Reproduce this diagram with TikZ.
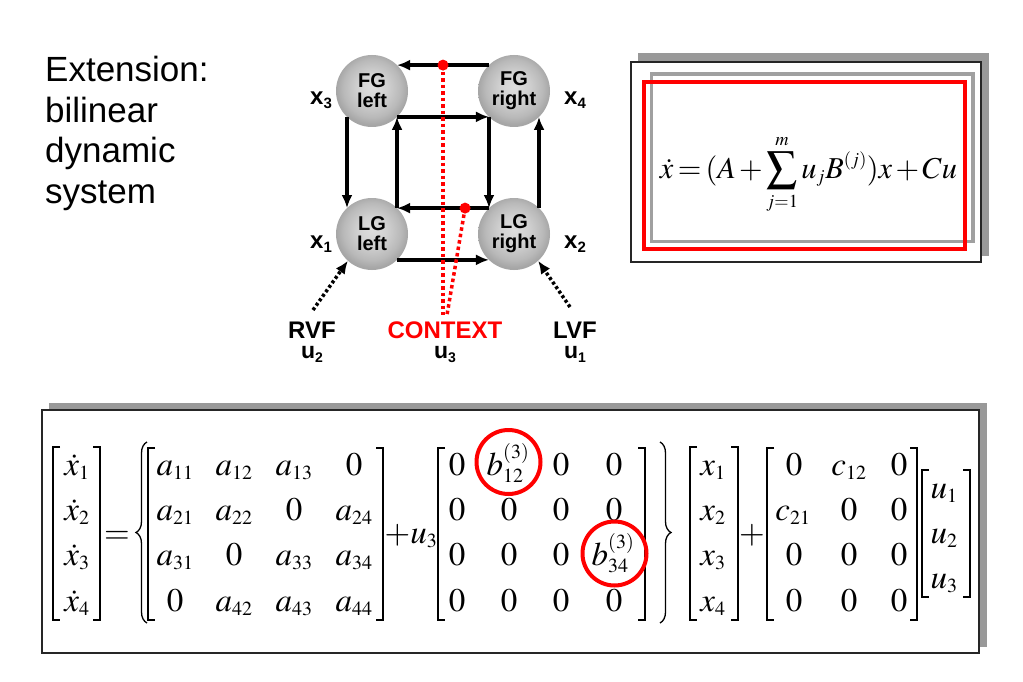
\documentclass[tikz,border=0pt]{standalone}
\usepackage{mathptmx}
\usepackage[no-math]{fontspec}
\setmainfont{Liberation Sans}
\DeclareMathSizes{33}{33}{20}{15}
\usetikzlibrary{arrows.meta,decorations.pathreplacing,calc}
\definecolor{shadowgray}{RGB}{153,153,153}
\definecolor{framegray}{RGB}{160,160,160}
\pgfdeclareradialshading{sphere}{\pgfpoint{0bp}{3bp}}{color(0bp)=(gray!26); color(10bp)=(gray!36); color(20bp)=(gray!55); color(25bp)=(gray!70); color(50bp)=(gray!70)}
\newcommand\lbl[2]{#1\raisebox{-4pt}{\fontsize{15}{15}\selectfont #2}}
\newcommand\ulbl[2]{#1\raisebox{-4pt}{\fontsize{14}{14}\selectfont #2}}
\newcommand\lbrk[3]{\draw[brk] (#1+7,#2) -- (#1,#2) -- (#1,#3) -- (#1+7,#3);}
\newcommand\rbrk[3]{\draw[brk] (#1-7,#2) -- (#1,#2) -- (#1,#3) -- (#1-7,#3);}
\tikzset{
  area/.style={circle, minimum size=72pt, inner sep=0pt, outer sep=0pt, shading=sphere,
    font=\bfseries\fontsize{20}{20}\selectfont, align=center},
  conn/.style={line width=3.5pt, -{Latex[length=13pt,width=11pt]}},
  inp/.style={line width=3.5pt, dash pattern=on 3pt off 2.5pt, -{Latex[length=13pt,width=11pt]}},
  ctx/.style={red, line width=3.5pt, dash pattern=on 3.5pt off 3pt},
  rdot/.style={circle, fill=red, minimum size=11pt, inner sep=0pt},
  xlab/.style={font=\bfseries\fontsize{24}{24}\selectfont, anchor=base, inner sep=0pt},
  inlab/.style={font=\bfseries\fontsize{24}{24}\selectfont, anchor=base, inner sep=0pt},
  ulab/.style={font=\bfseries\fontsize{23}{23}\selectfont, anchor=base, inner sep=0pt},
  ttl/.style={font=\fontsize{35}{40}\selectfont, anchor=base west, inner sep=0pt},
  ent/.style={anchor=base, inner sep=0pt, font=\fontsize{33}{40}\selectfont},
  brk/.style={line width=1.3pt, line cap=butt},
  brc/.style={line width=1.3pt, decorate, decoration={brace, amplitude=11pt}},
  hl/.style={circle, draw=red, line width=4pt, minimum size=64pt, inner sep=0pt},
}
\begin{document}
\begin{tikzpicture}[x=1pt,y=-1pt]
\useasboundingbox (0,0) rectangle (1023,682);
\fill[white] (0,0) rectangle (1023,682);

% title
\node[ttl] (t1) at (45,82) {Extension:};
\node[ttl] (t2) at (45,122.5) {bilinear};
\node[ttl] (t3) at (45,163) {dynamic};
\node[ttl] (t4) at (45,203.5) {system};

% network
\node[area] (fgl) at (372,91) {FG\\left};
\node[area] (fgr) at (514,91) {FG\\right};
\node[area] (lgl) at (372,234) {LG\\left};
\node[area] (lgr) at (514,234) {LG\\right};

\node[xlab] (x3) at (321,105) {\lbl{x}{3}};
\node[xlab] (x4) at (575,105) {\lbl{x}{4}};
\node[xlab] (x1) at (321,248) {\lbl{x}{1}};
\node[xlab] (x2) at (575,248) {\lbl{x}{2}};

\draw[conn] (fgr.134) -- (fgl.46);
\draw[conn] (fgl.-46) -- (fgr.-134);
\draw[conn] (fgl.-134) -- (lgl.134);
\draw[conn] (lgl.46) -- (fgl.-46);
\draw[conn] (fgr.-134) -- (lgr.134);
\draw[conn] (lgr.46) -- (fgr.-46);
\draw[conn] (lgr.134) -- (lgl.46);
\draw[conn] (lgl.-46) -- (lgr.-134);

% inputs
\node[inlab] (rvf) at (312,338) {RVF};
\node[ulab] (u2l) at (312,358) {\ulbl{u}{2}};
\node[inlab, text=red] (ctxl) at (445,338) {CONTEXT};
\node[ulab] (u3l) at (445,358) {\ulbl{u}{3}};
\node[inlab] (lvf) at (575,338) {LVF};
\node[ulab] (u1l) at (575,358) {\ulbl{u}{1}};

\coordinate (rvfs) at (313,310);
\coordinate (lvfs) at (570,307);
\coordinate (ctx1) at (443,315);
\coordinate (ctx2) at (447,315);
\draw[inp] (rvfs) -- (lgl.-132);
\draw[inp] (lvfs) -- (lgr.-48);

\coordinate (rd1) at ($(fgr.134)!0.5!(fgl.46)$);
\coordinate (rd2) at ($(lgr.134)!0.26!(lgl.46)$);
\draw[ctx] (rd1) -- (ctx1);
\draw[ctx] (rd2) -- (ctx2);
\node[rdot] (dot1) at (rd1) {};
\node[rdot] (dot2) at (rd2) {};

% top-right formula box
\fill[shadowgray] (638,53) rectangle (989,256);
\draw[fill=white, line width=1.1pt, draw=black!85] (631,62) rectangle (981,262);
\draw[framegray, line width=3.5pt] (651.5,74) rectangle (973,241.5);
\draw[red, line width=4pt] (644,82.5) rectangle (964.5,249);
\node[ent] (feq) at (808.5,178) {\resizebox{297pt}{!}{$\medmuskip=2mu\thickmuskip=2.5mu\displaystyle\dot{x}=(A+\sum_{j=1}^{m}u_{j}B^{(j)})x+Cu$}};

% bottom equation box
\fill[shadowgray] (49,403) rectangle (987,647);
\draw[fill=white, line width=1.1pt, draw=black!85] (42,410) rectangle (979,653);

% xdot vector
\lbrk{53}{447}{620}\rbrk{100}{447}{620}
\node[ent] (xd1) at (77,475) {$\dot{x}_1$};
\node[ent] (xd2) at (77,520) {$\dot{x}_2$};
\node[ent] (xd3) at (77,565) {$\dot{x}_3$};
\node[ent] (xd4) at (77,611) {$\dot{x}_4$};
\node[ent] (eq) at (117,543) {$=$};
\draw[brc] (147,623) -- (147,442);

% A matrix
\lbrk{148}{448}{620}\rbrk{383}{448}{620}
\node[ent] (a11) at (175,475) {$a_{11}$};
\node[ent] (a12) at (234,475) {$a_{12}$};
\node[ent] (a13) at (294,475) {$a_{13}$};
\node[ent] (a14) at (354,475) {$0$};
\node[ent] (a21) at (175,520) {$a_{21}$};
\node[ent] (a22) at (234,520) {$a_{22}$};
\node[ent] (a23) at (294,520) {$0$};
\node[ent] (a24) at (354,520) {$a_{24}$};
\node[ent] (a31) at (175,565) {$a_{31}$};
\node[ent] (a32) at (234,565) {$0$};
\node[ent] (a33) at (294,565) {$a_{33}$};
\node[ent] (a34) at (354,565) {$a_{34}$};
\node[ent] (a41) at (175,611) {$0$};
\node[ent] (a42) at (234,611) {$a_{42}$};
\node[ent] (a43) at (294,611) {$a_{43}$};
\node[ent] (a44) at (354,611) {$a_{44}$};

\node[ent] (pu3) at (411,543) {$+u_3$};

% B matrix
\lbrk{438}{448}{620}\rbrk{645}{448}{620}
\node[ent] (b11) at (457,475) {$0$};
\node[ent] (b12) at (508,475) {$b_{12}^{(3)}$};
\node[ent] (b13) at (561,475) {$0$};
\node[ent] (b14) at (614,475) {$0$};
\node[ent] (b21) at (457,520) {$0$};
\node[ent] (b22) at (509,520) {$0$};
\node[ent] (b23) at (561,520) {$0$};
\node[ent] (b24) at (614,520) {$0$};
\node[ent] (b31) at (457,565) {$0$};
\node[ent] (b32) at (509,565) {$0$};
\node[ent] (b33) at (561,565) {$0$};
\node[ent] (b34) at (613,565) {$b_{34}^{(3)}$};
\node[ent] (b41) at (457,611) {$0$};
\node[ent] (b42) at (509,611) {$0$};
\node[ent] (b43) at (561,611) {$0$};
\node[ent] (b44) at (614,611) {$0$};
\node[hl] (hl1) at (508.5,462) {};
\node[hl] (hl2) at (614.5,553.5) {};

\draw[brc] (660,442) -- (660,623);

% x vector
\lbrk{690}{447}{620}\rbrk{738}{447}{620}
\node[ent] (xv1) at (713,475) {$x_1$};
\node[ent] (xv2) at (713,520) {$x_2$};
\node[ent] (xv3) at (713,565) {$x_3$};
\node[ent] (xv4) at (713,611) {$x_4$};

\node[ent] (plus) at (752,543) {$+$};

% C matrix
\lbrk{767}{448}{620}\rbrk{917}{448}{620}
\node[ent] (c11) at (794,475) {$0$};
\node[ent] (c12) at (849,475) {$c_{12}$};
\node[ent] (c13) at (899,475) {$0$};
\node[ent] (c21) at (793,520) {$c_{21}$};
\node[ent] (c22) at (849,520) {$0$};
\node[ent] (c23) at (899,520) {$0$};
\node[ent] (c31) at (794,565) {$0$};
\node[ent] (c32) at (849,565) {$0$};
\node[ent] (c33) at (899,565) {$0$};
\node[ent] (c41) at (794,611) {$0$};
\node[ent] (c42) at (849,611) {$0$};
\node[ent] (c43) at (899,611) {$0$};

% u vector
\lbrk{922}{470}{597}\rbrk{970}{470}{597}
\node[ent] (uv1) at (944,498) {$u_1$};
\node[ent] (uv2) at (944,543) {$u_2$};
\node[ent] (uv3) at (944,588) {$u_3$};
\end{tikzpicture}
\end{document}
